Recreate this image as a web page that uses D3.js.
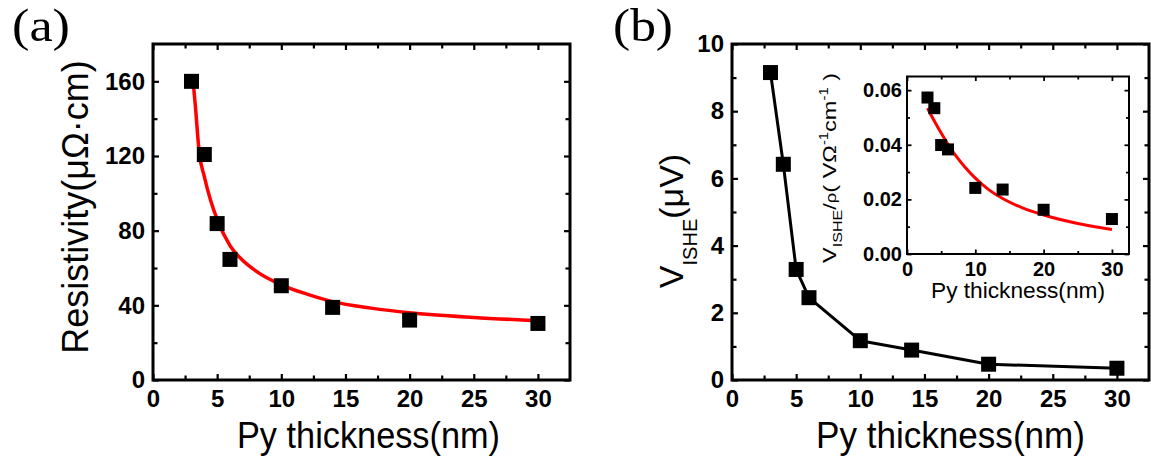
<!DOCTYPE html>
<html>
<head>
<meta charset="utf-8">
<script src="https://cdn.jsdelivr.net/npm/d3@7"></script>
<style>
  body { margin: 0; background: #fff; }
  text { font-family: "Liberation Sans", Arial, sans-serif; fill: #000; }
</style>
</head>
<body>
<svg id="fig" width="1151" height="463"></svg>
<script>
// data
var thickness   = [3, 4, 5, 6, 10, 14, 20, 30];
var resistivity = [160, 120.8, 83.8, 64.6, 50.5, 38.9, 32.1, 30.3];
var vIshe       = [9.15, 6.42, 3.29, 2.45, 1.17, 0.89, 0.47, 0.35];
var ratio       = [0.0573, 0.0534, 0.0399, 0.0383, 0.0242, 0.0236, 0.0162, 0.0128];

// fitted curves (red)
var resFitX   = [3.1, 3.3, 3.6, 4, 4.5, 5, 6, 7, 8, 10, 12, 14, 17, 20, 25, 30];
var resFitY   = [162, 147, 122, 109, 96, 86, 72, 64, 58.5, 51, 46, 42, 38.5, 36, 33.5, 31.8];
var ratioFitX = [3, 4, 5, 6, 7, 8.5, 10, 12, 14, 17, 20, 25, 30];
var ratioFitY = [0.0534, 0.0487, 0.0443, 0.0402, 0.0365, 0.0318, 0.0278, 0.0235, 0.0203, 0.0168, 0.0143, 0.0112, 0.0090];

// ticks
var xMajor      = [0, 5, 10, 15, 20, 25, 30]
  , xMinor      = [2.5, 7.5, 12.5, 17.5, 22.5, 27.5]
  , resMajor    = [0, 40, 80, 120, 160]
  , resMinor    = [20, 60, 100, 140]
  , vMajor      = [0, 2, 4, 6, 8, 10]
  , vMinor      = [1, 3, 5, 7, 9]
  , insetXMajor = [0, 10, 20, 30]
  , insetXMinor = [5, 15, 25]
  , insetYMajor = [0, 0.02, 0.04, 0.06]
  , insetYMinor = [0.01, 0.03, 0.05]
  ;

var svg = d3.select('#fig');

function frame(g, x, y, o) {
  var w = x.range()[1] - x.range()[0]
    , h = y.range()[0] - y.range()[1]
    , fs = o.fontSize
    ;

  function strip(a) {
    a.select('.domain').remove();
    a.selectAll('line').attr('stroke', '#000').attr('stroke-width', o.tickWidth);
    a.selectAll('text').style('font-size', fs + 'px').style('font-weight', 'bold')
      .style('font-family', '"Liberation Sans", Arial, sans-serif');
  }

  // major ticks with labels
  g.append('g').attr('transform', 'translate(0,' + h + ')')
    .call(d3.axisBottom(x).tickValues(o.xMajor).tickSize(-o.major).tickPadding(o.padX)
      .tickFormat(d3.format('d')))
    .call(strip);
  g.append('g')
    .call(d3.axisLeft(y).tickValues(o.yMajor).tickSize(-o.major).tickPadding(o.padY)
      .tickFormat(o.yFormat))
    .call(strip);

  // mirrored and minor ticks
  [[d3.axisBottom, o.xMinor, o.minor, 'translate(0,' + h + ')', x],
   [d3.axisTop, o.xMajor, o.major, null, x],
   [d3.axisTop, o.xMinor, o.minor, null, x],
   [d3.axisLeft, o.yMinor, o.minor, null, y],
   [d3.axisRight, o.yMajor, o.major, 'translate(' + w + ',0)', y],
   [d3.axisRight, o.yMinor, o.minor, 'translate(' + w + ',0)', y]
  ].forEach(function (t) {
    g.append('g').attr('transform', t[3])
      .call(t[0](t[4]).tickValues(t[1]).tickSize(-t[2]).tickFormat(''))
      .call(strip);
  });

  g.append('rect')
    .attr('width', w).attr('height', h)
    .attr('fill', 'none').attr('stroke', '#000').attr('stroke-width', o.frameWidth);
}

function squares(g, x, y, xs, ys, s) {
  g.selectAll('rect.pt').data(xs).enter()
    .append('rect').attr('class', 'pt')
    .attr('x', function (d) { return x(d) - s / 2; })
    .attr('y', function (d, i) { return y(ys[i]) - s / 2; })
    .attr('width', s).attr('height', s)
    .attr('fill', '#000');
}

function line(g, x, y, xs, ys, color, width, curve) {
  g.append('path')
    .datum(xs)
    .attr('fill', 'none')
    .attr('stroke', color)
    .attr('stroke-width', width)
    .attr('stroke-linejoin', 'round')
    .attr('d', d3.line()
      .x(function (d) { return x(d); })
      .y(function (d, i) { return y(ys[i]); })
      .curve(curve));
}

// ---------------- (a)
var xa = d3.scaleLinear().domain([0, 32.5]).range([0, 417])
  , ya = d3.scaleLinear().domain([0, 180]).range([336, 0])
  , ga = svg.append('g').attr('transform', 'translate(153,44)')
  ;

frame(ga, xa, ya, {
  xMajor: xMajor, xMinor: xMinor, yMajor: resMajor, yMinor: resMinor,
  yFormat: d3.format('d'), major: 6, minor: 4.5, padX: 10, padY: 8,
  fontSize: 24, tickWidth: 2.2, frameWidth: 3
});
line(ga, xa, ya, resFitX, resFitY, '#ff0000', 3.5, d3.curveMonotoneX);
squares(ga, xa, ya, thickness, resistivity, 15);

svg.append('text').attr('x', 237).attr('y', 448)
  .attr('textLength', 263).attr('lengthAdjust', 'spacingAndGlyphs')
  .style('font-size', '36px')
  .text('Py thickness(nm)');
svg.append('text').attr('transform', 'translate(88,207) rotate(-90)')
  .attr('text-anchor', 'middle').style('font-size', '36px')
  .text('Resistivity(\u03bc\u03a9\u00b7cm)');
svg.append('text').attr('x', 12).attr('y', 41)
  .attr('textLength', 58).attr('lengthAdjust', 'spacingAndGlyphs')
  .style('font-family', '"Liberation Serif", "Times New Roman", serif')
  .style('font-size', '47px')
  .text('(a)');

// ---------------- (b)
var xb = d3.scaleLinear().domain([0, 32.5]).range([0, 417])
  , yb = d3.scaleLinear().domain([0, 10]).range([336, 0])
  , gb = svg.append('g').attr('transform', 'translate(732,44)')
  ;

frame(gb, xb, yb, {
  xMajor: xMajor, xMinor: xMinor, yMajor: vMajor, yMinor: vMinor,
  yFormat: d3.format('d'), major: 6, minor: 4.5, padX: 10, padY: 8,
  fontSize: 24, tickWidth: 2.2, frameWidth: 3
});
line(gb, xb, yb, thickness, vIshe, '#000', 3, d3.curveLinear);
squares(gb, xb, yb, thickness, vIshe, 15);

svg.append('text').attr('x', 816).attr('y', 448)
  .attr('textLength', 269).attr('lengthAdjust', 'spacingAndGlyphs')
  .style('font-size', '36px')
  .text('Py thickness(nm)');

var tb = svg.append('text').attr('transform', 'translate(683,221) rotate(-90)')
  .attr('text-anchor', 'middle').style('font-size', '34px');
tb.append('tspan').text('V');
tb.append('tspan').attr('dy', 14).style('font-size', '20px').text('ISHE');
tb.append('tspan').attr('dy', -14).text('(\u03bcV)');

svg.append('text').attr('x', 613).attr('y', 41)
  .attr('textLength', 60).attr('lengthAdjust', 'spacingAndGlyphs')
  .style('font-family', '"Liberation Serif", "Times New Roman", serif')
  .style('font-size', '47px')
  .text('(b)');

// ---------------- inset
var xi = d3.scaleLinear().domain([0, 32.5]).range([0, 222])
  , yi = d3.scaleLinear().domain([0, 0.065]).range([177.5, 0])
  , gi = svg.append('g').attr('transform', 'translate(907,76.5)')
  ;

frame(gi, xi, yi, {
  xMajor: insetXMajor, xMinor: insetXMinor, yMajor: insetYMajor, yMinor: insetYMinor,
  yFormat: d3.format('.2f'), major: 4.5, minor: 3, padX: 8, padY: 5,
  fontSize: 20, tickWidth: 1.8, frameWidth: 2
});
line(gi, xi, yi, ratioFitX, ratioFitY, '#ff0000', 3, d3.curveMonotoneX);
squares(gi, xi, yi, thickness, ratio, 12);

svg.append('text').attr('x', 931).attr('y', 298)
  .attr('textLength', 174).attr('lengthAdjust', 'spacingAndGlyphs')
  .style('font-size', '22px')
  .text('Py thickness(nm)');

var ti = svg.append('text').attr('transform', 'translate(836,263) rotate(-90)')
  .attr('textLength', 190).attr('lengthAdjust', 'spacingAndGlyphs')
  .style('font-size', '19px')
  .attr('xml:space', 'preserve');
ti.append('tspan').text('V');
ti.append('tspan').attr('dy', 6).style('font-size', '13px').text('ISHE');
ti.append('tspan').attr('dy', -6).text('/');
ti.append('tspan').style('font-size', '15px').text('\u03c1');
ti.append('tspan').text('( V\u03a9');
ti.append('tspan').attr('dy', -8).style('font-size', '12px').text('-1');
ti.append('tspan').attr('dy', 8).text('cm');
ti.append('tspan').attr('dy', -8).style('font-size', '12px').text('-1');
ti.append('tspan').attr('dy', 8).text(' )');
</script>
</body>
</html>
